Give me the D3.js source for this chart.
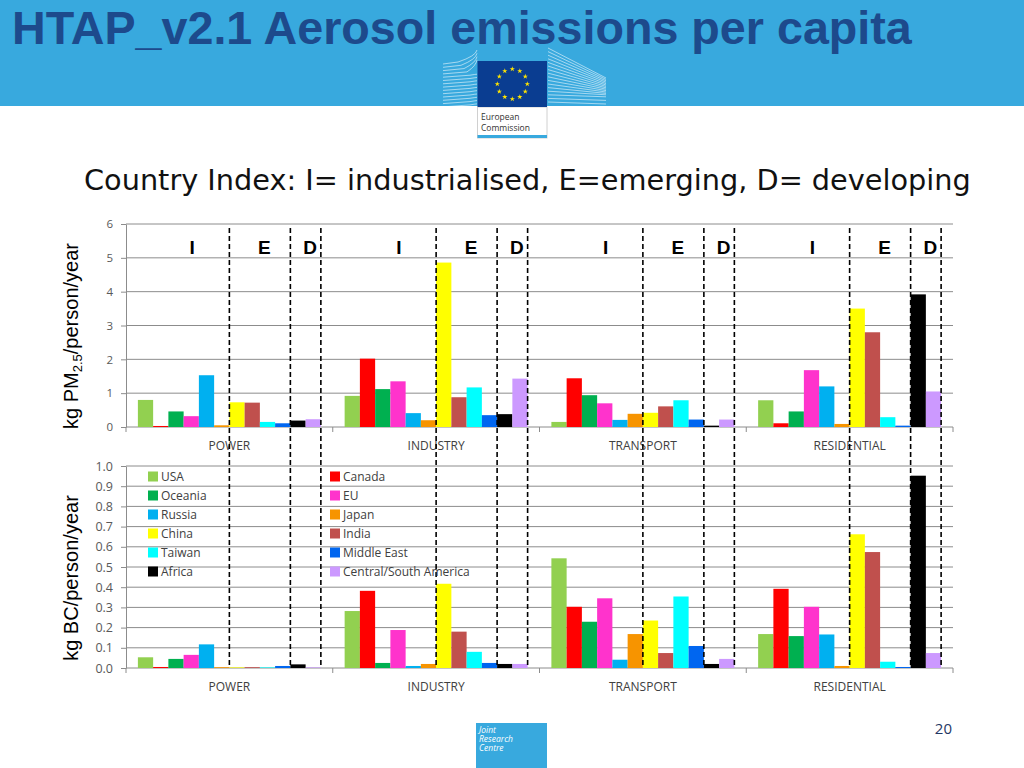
<!DOCTYPE html>
<html>
<head>
<meta charset="utf-8">
<script src="https://cdn.jsdelivr.net/npm/d3@7"></script>
<style>
  body { margin: 0; background: #fff; }
  svg text { font-family: "Open Sans", sans-serif; }
</style>
</head>
<body>
<svg id="chart" width="1024" height="768"></svg>
<script>
// sectors on the x axis
const categories = ["POWER", "INDUSTRY", "TRANSPORT", "RESIDENTIAL"];

// regions (one bar each, per sector)
const regions = ["USA", "Canada", "Oceania", "EU", "Russia", "Japan",
                 "China", "India", "Taiwan", "Middle East", "Africa", "Central/South America"];
const regionColors = ["#92D050", "#FF0000", "#00B050", "#FF33CC", "#00B0F0", "#F79400",
                      "#FFFF00", "#C0504D", "#00FFFF", "#0066F0", "#000000", "#CC99FF"];

// kg PM2.5 / person / year
const pm25Power       = [0.80, 0.03, 0.46, 0.32, 1.53, 0.05, 0.73, 0.72, 0.15, 0.11, 0.19, 0.23];
const pm25Industry    = [0.92, 2.02, 1.12, 1.35, 0.41, 0.20, 4.86, 0.88, 1.17, 0.35, 0.38, 1.43];
const pm25Transport   = [0.15, 1.44, 0.94, 0.70, 0.21, 0.39, 0.42, 0.61, 0.79, 0.22, 0.04, 0.22];
const pm25Residential = [0.79, 0.11, 0.46, 1.68, 1.20, 0.09, 3.50, 2.80, 0.29, 0.04, 3.92, 1.05];

// kg BC / person / year
const bcPower       = [0.053, 0.005, 0.045, 0.065, 0.117, 0.004, 0.003, 0.004, 0.003, 0.010, 0.018, 0.003];
const bcIndustry    = [0.282, 0.382, 0.025, 0.188, 0.010, 0.020, 0.417, 0.180, 0.080, 0.025, 0.020, 0.020];
const bcTransport   = [0.543, 0.303, 0.229, 0.345, 0.041, 0.168, 0.235, 0.074, 0.354, 0.109, 0.020, 0.045];
const bcResidential = [0.168, 0.392, 0.158, 0.303, 0.166, 0.010, 0.662, 0.574, 0.031, 0.005, 0.952, 0.074];

const pm25Ticks = [0, 1, 2, 3, 4, 5, 6];
const bcTicks = [0, 0.1, 0.2, 0.3, 0.4, 0.5, 0.6, 0.7, 0.8, 0.9, 1.0];

// country index groups: I ends after Japan, E after Middle East, D after C/S America
const groupLabels = ["I", "E", "D"];
const groupEnds = [6, 10, 12];

const svg = d3.select("#chart");

// scale font so text fills a given width
function fitText(sel, width) {
    const fs = parseFloat(sel.attr("font-size"));
    const len = sel.node().getComputedTextLength();
    sel.attr("font-size", fs * width / len);
}

// ---------- header ----------
svg.append("rect").attr("x", 0).attr("y", 0).attr("width", 1024).attr("height", 106).attr("fill", "#38A9DE");

// building lines behind the logo
const deco = svg.append("g").attr("stroke", "#fff").attr("stroke-opacity", 0.55).attr("fill", "none");
d3.range(14).forEach(i => {
    const y = 62 + i * 3.3;
    deco.append("path").attr("d", `M443,${y + 2} L${470 - Math.max(0, 4 - i) * 3},${y} Q476,${y - (i < 4 ? 6 : 1)} 477,${y - (i < 4 ? 12 : 1)}`);
});
d3.range(16).forEach(i => {
    const y0 = 48 + i * 3.6;
    const drop = Math.max(2, 30 - i * 2.2);
    deco.append("line").attr("x1", 548).attr("y1", y0).attr("x2", 606).attr("y2", Math.min(y0 + drop, 106));
});

svg.append("rect").attr("x", 477.5).attr("y", 107).attr("width", 69.5).attr("height", 31)
    .attr("fill", "#fff").attr("stroke", "#d0d0d0");
svg.append("rect").attr("x", 477.5).attr("y", 135).attr("width", 69.5).attr("height", 3).attr("fill", "#38A9DE");
svg.append("rect").attr("x", 477.5).attr("y", 61).attr("width", 69.5).attr("height", 46).attr("fill", "#0A3D91");
const star = d3.symbol().type(d3.symbolStar).size(9);
d3.range(12).forEach(i => {
    const a = i * Math.PI / 6;
    svg.append("path").attr("d", star)
        .attr("transform", `translate(${512.3 + 15 * Math.sin(a)},${84 - 15 * Math.cos(a)})`)
        .attr("fill", "#FFE500");
});
svg.append("text").attr("x", 481).attr("y", 120).attr("font-size", 8.5).attr("fill", "#333").text("European");
svg.append("text").attr("x", 481).attr("y", 131).attr("font-size", 8.5).attr("fill", "#333").text("Commission");

const title = svg.append("text").attr("x", 12).attr("y", 44)
    .attr("font-family", "'Liberation Sans', Arial, sans-serif")
    .attr("font-weight", "bold").attr("font-size", 41).attr("fill", "#1D4A8C")
    .style("font-family", "'Liberation Sans', Arial, sans-serif")
    .text("HTAP_v2.1 Aerosol emissions per capita");
fitText(title, 900);

const sub = svg.append("text").attr("x", 84).attr("y", 190)
    .style("font-family", "'DejaVu Sans', sans-serif")
    .attr("font-size", 24).attr("fill", "#111")
    .text("Country Index: I= industrialised, E=emerging, D= developing");
fitText(sub, 887);

// ---------- charts ----------
const plotLeft = 126, plotRight = 953;
const x = d3.scaleBand().domain(categories).range([plotLeft, plotRight])
    .paddingInner(0.115).paddingOuter(0.0575);
const xSub = d3.scaleBand().domain(regions).range([0, x.bandwidth()]);
const yPm = d3.scaleLinear().domain([0, 6]).range([427, 224]);
const yBc = d3.scaleLinear().domain([0, 1]).range([668, 466]);

const gapHalf = (x.step() - x.bandwidth()) / 2;
const boundaries = categories.map(c => x(c) - gapHalf).concat([plotRight]);

function drawPanel(yScale, ticks, fmt, series, tickFont) {
    const g = svg.append("g");

    g.selectAll(".grid").data(ticks).enter().append("line")
        .attr("x1", plotLeft).attr("x2", plotRight)
        .attr("y1", d => yScale(d)).attr("y2", d => yScale(d))
        .attr("stroke", "#8c8c8c").attr("stroke-width", 1);

    const yAxis = g.append("g").attr("transform", `translate(${plotLeft},0)`)
        .call(d3.axisLeft(yScale).tickValues(ticks).tickFormat(fmt).tickSize(5).tickSizeOuter(0).tickPadding(8));
    yAxis.selectAll("path, line").attr("stroke", "#8c8c8c");
    yAxis.selectAll("text").attr("font-size", tickFont).attr("fill", "#595959")
        .style("font-family", "'Open Sans', sans-serif");

    // category boundary ticks
    g.selectAll(".bt").data(boundaries).enter().append("line")
        .attr("x1", d => d).attr("x2", d => d)
        .attr("y1", yScale(0)).attr("y2", yScale(0) + 5)
        .attr("stroke", "#8c8c8c");

    g.selectAll(".cat").data(categories).enter().append("text")
        .attr("x", d => x(d) + x.bandwidth() / 2)
        .attr("y", yScale(0) + 23)
        .attr("text-anchor", "middle").attr("font-size", 12).attr("fill", "#404040")
        .text(d => d);

    categories.forEach((c, ci) => {
        g.selectAll(null).data(series[ci]).enter().append("rect")
            .attr("x", (d, i) => x(c) + xSub(regions[i]))
            .attr("y", d => yScale(d))
            .attr("width", xSub.bandwidth())
            .attr("height", d => yScale(0) - yScale(d))
            .attr("fill", (d, i) => regionColors[i]);
    });
    return g;
}

drawPanel(yPm, pm25Ticks, d3.format("d"), [pm25Power, pm25Industry, pm25Transport, pm25Residential], 11.5);
drawPanel(yBc, bcTicks, d3.format(".1f"), [bcPower, bcIndustry, bcTransport, bcResidential], 12.5);

// dashed country-index separators, through both panels
const sepX = [];
categories.forEach(c => groupEnds.forEach(e => {
    sepX.push(x(c) + (e < regions.length ? xSub(regions[e]) : x.bandwidth()));
}));
svg.selectAll(".sep").data(sepX).enter().append("line")
    .attr("x1", d => d).attr("x2", d => d)
    .attr("y1", 228).attr("y2", yBc(0))
    .attr("stroke", "#000").attr("stroke-width", 1.6).attr("stroke-dasharray", "5,3");

// I / E / D labels
const labelPos = [3.55, 8.3, 11.3];
categories.forEach(c => {
    groupLabels.forEach((l, k) => {
        svg.append("text")
            .attr("x", x(c) + xSub.bandwidth() * labelPos[k])
            .attr("y", 254)
            .attr("text-anchor", "middle")
            .attr("font-size", 19).attr("font-weight", "bold").attr("fill", "#000")
            .style("font-family", "'Liberation Sans', Arial, sans-serif")
            .text(l);
    });
});

// legend
const legend = svg.append("g");
regions.forEach((r, i) => {
    const lx = i % 2 === 0 ? 148 : 330;
    const ly = 476.5 + Math.floor(i / 2) * 19;
    legend.append("rect").attr("x", lx).attr("y", ly - 5).attr("width", 10).attr("height", 10).attr("fill", regionColors[i]);
    legend.append("text").attr("x", lx + 13).attr("y", ly).attr("dy", "0.35em")
        .attr("font-size", 12).attr("fill", "#404040").text(r);
});

// y axis titles
const yt1 = svg.append("text").attr("transform", "translate(78,336) rotate(-90)")
    .attr("text-anchor", "middle").attr("font-size", 20).attr("fill", "#000")
    .style("font-family", "'Liberation Sans', Arial, sans-serif");
yt1.append("tspan").text("kg PM");
yt1.append("tspan").attr("font-size", 13).attr("dy", 4).text("2.5");
yt1.append("tspan").attr("dy", -4).text("/person/year");

svg.append("text").attr("transform", "translate(78,578) rotate(-90)")
    .attr("text-anchor", "middle").attr("font-size", 20).attr("fill", "#000")
    .style("font-family", "'Liberation Sans', Arial, sans-serif")
    .text("kg BC/person/year");

// ---------- footer ----------
svg.append("rect").attr("x", 476).attr("y", 723).attr("width", 71).attr("height", 45).attr("fill", "#38A9DE");
["Joint", "Research", "Centre"].forEach((t, i) => {
    svg.append("text").attr("x", 479).attr("y", 733 + i * 9)
        .attr("font-size", 8.5).attr("font-style", "italic").attr("fill", "#fff").text(t);
});
svg.append("text").attr("x", 952).attr("y", 734).attr("text-anchor", "end")
    .attr("font-size", 15).attr("fill", "#1F3864").text("20");
</script>
</body>
</html>
